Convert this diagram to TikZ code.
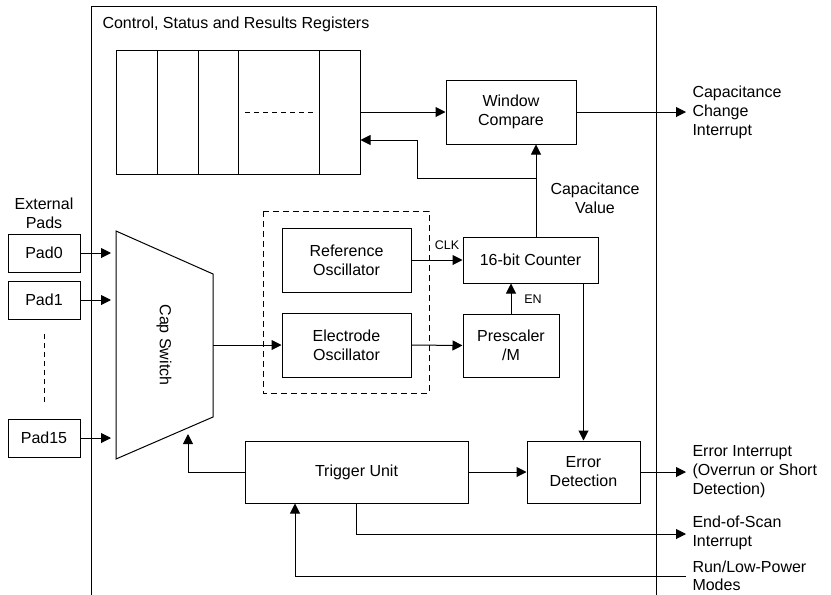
\documentclass[tikz,border=0pt]{standalone}
\usepackage{fontspec}
\setmainfont{Liberation Sans}
\usetikzlibrary{arrows.meta}
\begin{document}
\begin{tikzpicture}[x=1pt,y=-1pt,line width=1pt,
  every node/.style={font=\fontsize{16}{19}\selectfont},
  blk/.style={draw,inner sep=0pt,align=center},
  lbl/.style={align=center,inner sep=0pt},
  rlbl/.style={align=left,anchor=west,inner sep=0pt},
  small/.style={font=\fontsize{12.5}{15}\selectfont,inner sep=0pt},
  arr/.style={-{Triangle[length=10pt,width=10pt]}},
  dsh/.style={dash pattern=on 6pt off 4pt}]
\useasboundingbox (0,0) rectangle (831,595);
% outer frame
\draw (91,595) -- (91,6) -- (656,6) -- (656,595);
\node[rlbl] (title) at (102,24) {Control, Status and Results Registers};
% registers
\node[blk,minimum width=244pt,minimum height=124pt] (reg) at (238,112) {};
\foreach \x in {157,198,238,319} \draw (\x,50) -- (\x,174);
\draw[dash pattern=on 5pt off 4pt] (245,112) -- (316,112);
% blocks
\node[blk,minimum width=130pt,minimum height=64pt] (wc) at (511,112) {Window\\Compare};
\node[blk,minimum width=135pt,minimum height=46pt] (cnt) at (530.5,260) {16-bit Counter};
\node[blk,minimum width=96pt,minimum height=63pt] (pre) at (511,345.5) {Prescaler\\/M};
\node[blk,minimum width=129pt,minimum height=64pt] (ref) at (346.5,260) {Reference\\Oscillator};
\node[blk,minimum width=129pt,minimum height=64pt] (ele) at (346.5,345) {Electrode\\Oscillator};
\draw[dsh] (263,211) rectangle (429,393);
\node[blk,minimum width=223pt,minimum height=62pt] (trig) at (356.5,472) {Trigger Unit};
\node[blk,minimum width=113pt,minimum height=62pt] (err) at (583.5,472) {Error\\Detection};
% pads
\node[lbl] (ext) at (44,213) {External\\Pads};
\node[blk,minimum width=72pt,minimum height=38pt] (p0) at (44,253) {Pad0};
\node[blk,minimum width=72pt,minimum height=38pt] (p1) at (44,300) {Pad1};
\node[blk,minimum width=72pt,minimum height=38pt] (p15) at (44,438) {Pad15};
\draw[dash pattern=on 5pt off 4pt] (44,334) -- (44,403);
% cap switch trapezoid
\draw (116,231) -- (213,274) -- (213,417) -- (116,459) -- cycle;
\node[lbl,rotate=-90] (capsw) at (164,345) {Cap Switch};
\coordinate (in0) at (111,253);
\coordinate (in1) at (111,300);
\coordinate (in15) at (111,438);
\coordinate (swout) at (213,345);
\coordinate (swin) at (188,434);
% labels
\node[rlbl] (cci) at (692,112) {Capacitance\\Change\\Interrupt};
\node[lbl] (cval) at (595,198.5) {Capacitance\\Value};
\node[small,anchor=south] (clk) at (447,250) {CLK};
\node[small] (en) at (533,299) {EN};
\node[rlbl] (eint) at (692,472) {Error Interrupt\\(Overrun or Short\\Detection)};
\node[rlbl] (eos) at (692,533) {End-of-Scan\\Interrupt};
\node[rlbl,font=\fontsize{16}{18}\selectfont] (run) at (692,576) {Run/Low-Power\\Modes};
\coordinate (cci0) at (686,112);
\coordinate (eint0) at (686,472);
\coordinate (eos0) at (686,534);
\coordinate (run0) at (686,576);
\coordinate (cv) at (536,178);
\coordinate (fb) at (417,140);
\coordinate (runup) at (295,576);
% connectors
\draw[arr] (p0) -- (in0);
\draw[arr] (p1) -- (in1);
\draw[arr] (p15) -- (in15);
\draw[arr] (reg.east) -- (wc.west);
\draw[arr] (wc.east) -- (cci0);
\draw[arr] (cnt.north -| cv) -- (wc.south -| cv);
\draw[arr] (cv) -| (fb) -- (reg.east |- fb);
\draw[arr] (ref.east) -- (cnt.west);
\draw[arr] (ele.east) -- (pre.west);
\draw[arr] (pre.north) -- (pre.north |- cnt.south);
\draw[arr] (err.north |- cnt.south) -- (err.north);
\draw[arr] (swout) -- (ele.west);
\draw[arr] (trig.west) -| (swin);
\draw[arr] (trig.east) -- (err.west);
\draw[arr] (err.east) -- (eint0);
\draw[arr] (trig.south) |- (eos0);
\draw[arr] (run0) -| (runup |- trig.south);
\end{tikzpicture}
\end{document}
